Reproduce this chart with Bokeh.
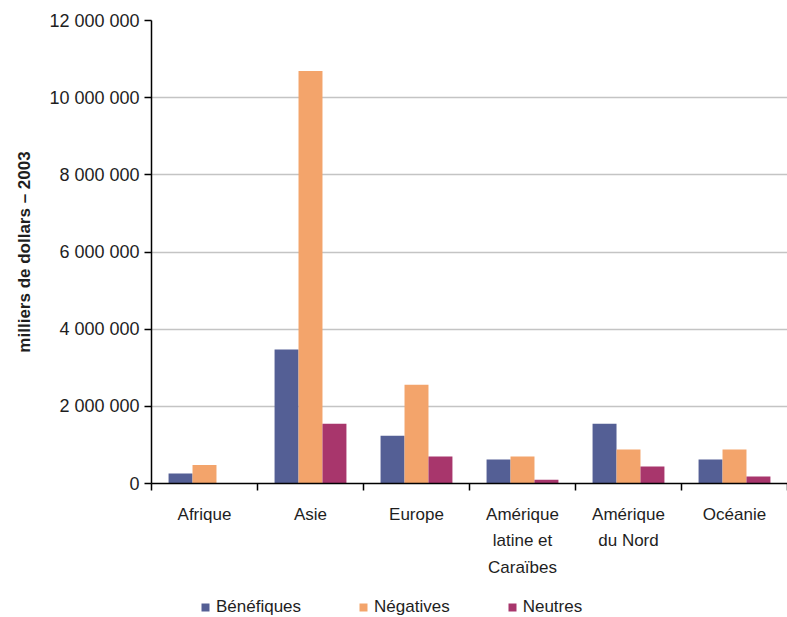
from bokeh.plotting import figure
from bokeh.layouts import column
from bokeh.models import (ColumnDataSource, FixedTicker, Legend, LegendItem,
                          Range1d)
from bokeh.embed import file_html
from bokeh.resources import INLINE

# Régions et valeurs (milliers de dollars, 2003)
regions = ["Afrique", "Asie", "Europe", "Amérique\nlatine et\nCaraïbes",
           "Amérique\ndu Nord", "Océanie"]
benefiques = [260000, 3470000, 1240000, 620000, 1550000, 620000]
negatives = [480000, 10690000, 2560000, 700000, 880000, 880000]
neutres = [0, 1550000, 700000, 100000, 440000, 180000]

series_names = ["Bénéfiques", "Négatives", "Neutres"]
series_colors = ["#545f95", "#f3a46b", "#a8366c"]

y_ticks = [0, 2000000, 4000000, 6000000, 8000000, 10000000, 12000000]
y_tick_labels = ["0", "2 000 000", "4 000 000", "6 000 000", "8 000 000",
                 "10 000 000", "12 000 000"]

FONT = "Liberation Sans"
TEXT_COLOR = "#1e1e1e"
W = 787

n = len(regions)
centers = [i + 0.5 for i in range(n)]
bar_w = 0.226

p = figure(width=W, height=583, output_backend="svg", toolbar_location=None,
           x_range=Range1d(0, n), y_range=Range1d(0, 12000000),
           min_border_left=151, min_border_right=0, min_border_top=20,
           min_border_bottom=100)
p.outline_line_color = None
p.background_fill_color = "white"
p.border_fill_color = "white"

series_sources = []
for k, vals in enumerate([benefiques, negatives, neutres]):
    src = ColumnDataSource(dict(x=[c + (k - 1) * bar_w for c in centers],
                                top=vals))
    series_sources.append(src)
    p.vbar(x="x", top="top", width=bar_w, bottom=0, source=src,
           fill_color=series_colors[k], line_color=None)

# Axe des ordonnées
p.yaxis.ticker = FixedTicker(ticks=y_ticks, minor_ticks=[])
p.yaxis.major_label_overrides = {t: s for t, s in zip(y_ticks, y_tick_labels)}
p.yaxis.major_label_text_font = FONT
p.yaxis.major_label_text_font_size = "18px"
p.yaxis.major_label_text_color = TEXT_COLOR
p.yaxis.major_tick_out = 7
p.yaxis.major_tick_in = 0
p.yaxis.major_label_standoff = 5
p.yaxis.axis_line_color = "black"
p.yaxis.axis_line_width = 1.5
p.yaxis.major_tick_line_width = 1.5
p.yaxis.axis_label = "milliers de dollars – 2003"
p.yaxis.axis_label_text_font = FONT
p.yaxis.axis_label_text_font_style = "bold"
p.yaxis.axis_label_text_font_size = "17px"
p.yaxis.axis_label_text_color = TEXT_COLOR
p.yaxis.axis_label_standoff = 12

# Axe des abscisses : étiquettes au centre, graduations entre régions
p.xaxis.ticker = FixedTicker(ticks=centers, minor_ticks=list(range(n + 1)))
p.xaxis.major_label_overrides = {c: r for c, r in zip(centers, regions)}
p.xaxis.major_tick_out = 0
p.xaxis.major_tick_in = 0
p.xaxis.minor_tick_out = 7
p.xaxis.minor_tick_in = 0
p.xaxis.minor_tick_line_color = "black"
p.xaxis.minor_tick_line_width = 1.5
p.xaxis.axis_line_color = "black"
p.xaxis.axis_line_width = 1.5
p.xaxis.major_label_text_font = FONT
p.xaxis.major_label_text_font_size = "17px"
p.xaxis.major_label_text_color = TEXT_COLOR
p.xaxis.major_label_text_line_height = 1.42
p.xaxis.major_label_standoff = 14

# Quadrillage horizontal
p.xgrid.grid_line_color = None
p.ygrid.ticker = FixedTicker(ticks=y_ticks[1:-1])
p.ygrid.grid_line_color = "#c4c4c4"
p.ygrid.grid_line_width = 1.5

# Bandeau de légende sous le graphique : chaque entrée reprend la série
# correspondante (renderer masqué, seule sa pastille apparaît dans la légende)
leg = figure(width=W, height=34, output_backend="svg", toolbar_location=None,
             x_range=Range1d(0, n), y_range=Range1d(0, 12000000),
             min_border_left=0, min_border_right=0, min_border_top=0,
             min_border_bottom=0)
leg.outline_line_color = None
leg.axis.visible = False
leg.grid.visible = False
swatches = []
for src, c in zip(series_sources, series_colors):
    r = leg.vbar(x="x", top="top", width=bar_w, bottom=0, source=src,
                 fill_color=c, line_color=None)
    r.visible = False
    swatches.append(r)
legend = Legend(items=[LegendItem(label=name, renderers=[r])
                       for name, r in zip(series_names, swatches)],
                orientation="horizontal", location=(49, 0),
                padding=0, margin=0, spacing=57, label_standoff=6,
                glyph_width=10, glyph_height=10, label_height=12,
                border_line_color=None, background_fill_alpha=0,
                inactive_fill_alpha=0, click_policy="none",
                label_text_font=FONT, label_text_font_size="17px",
                label_text_color=TEXT_COLOR)
leg.add_layout(legend, "center")

layout = column(p, leg, spacing=0)
open("out.html", "w").write(file_html(layout, INLINE))
